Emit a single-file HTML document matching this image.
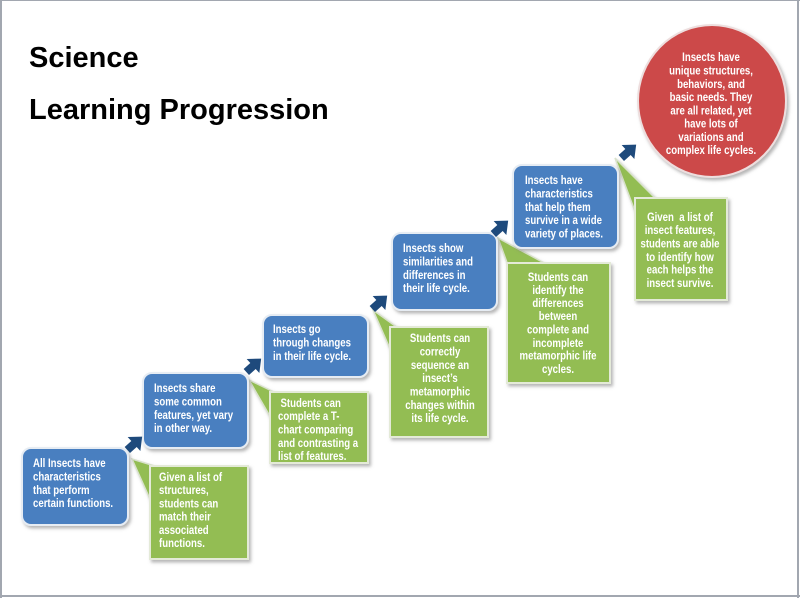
<!DOCTYPE html>
<html>
<head>
<meta charset="utf-8">
<style>
html,body{margin:0;padding:0;background:#fff;}
svg{display:block;}
.t{font-family:"Liberation Sans",Arial,sans-serif;font-weight:bold;font-size:11.6px;fill:#fff;}
.title{font-family:"Liberation Sans",Arial,sans-serif;font-weight:bold;font-size:29px;fill:#000;}
</style>
</head>
<body>
<svg width="800" height="598" viewBox="0 0 800 598" xmlns="http://www.w3.org/2000/svg">
<defs>
<filter id="sh" x="-20%" y="-20%" width="140%" height="140%">
<feDropShadow dx="2" dy="2.5" stdDeviation="1.5" flood-color="#7a7a7a" flood-opacity="0.55"/>
</filter>
</defs>
<rect x="0" y="0" width="800" height="598" fill="#fff"/>

<!-- frame -->
<rect x="0" y="0" width="2" height="598" fill="#a2a7b0"/>
<rect x="0" y="0" width="800" height="1" fill="#a2a7b0"/>
<rect x="797" y="0" width="2" height="598" fill="#a2a7b0"/>
<rect x="0" y="595" width="800" height="2" fill="#a2a7b0"/>

<!-- title -->
<text class="title" x="29" y="67">Science</text>
<text class="title" x="29" y="119">Learning Progression</text>

<!-- green tails -->
<g fill="#93bd52" stroke="#d9e2cc" stroke-width="1.5" filter="url(#sh)">
<polygon points="132,459 158,467 150,499"/>
<polygon points="249,380 276,393 271,418"/>
<polygon points="373,310 398,328 391,351"/>
<polygon points="498,238 546,264 509,268"/>
<polygon points="615,158 656,199 636,214"/>
</g>

<!-- blue boxes -->
<g fill="#4a7fc0" stroke="#e6ecf3" stroke-width="2" filter="url(#sh)">
<rect x="22" y="448" width="106" height="77" rx="9"/>
<rect x="143" y="373" width="105" height="75" rx="9"/>
<rect x="263" y="315" width="105" height="62" rx="9"/>
<rect x="392" y="233" width="105" height="77" rx="9"/>
<rect x="513" y="165" width="105" height="83" rx="9"/>
</g>

<!-- green boxes -->
<g fill="#93bd52" stroke="#e4ead8" stroke-width="2" filter="url(#sh)">
<rect x="150" y="466" width="98" height="93"/>
<rect x="270" y="392" width="98" height="71"/>
<rect x="390" y="327" width="98" height="110"/>
<rect x="507" y="263" width="103" height="120"/>
<rect x="635" y="198" width="92" height="102"/>
</g>

<!-- red ellipse -->
<ellipse cx="712" cy="101" rx="74" ry="76" fill="#cc4a4a" stroke="#eddede" stroke-width="2" filter="url(#sh)"/>

<!-- arrows -->
<g fill="#1e4a7c">
<polygon points="-9,-4 0,-4 0,-9.5 11,0 0,9.5 0,4 -9,4" transform="translate(134,444) rotate(-42)"/>
<polygon points="-9,-4 0,-4 0,-9.5 11,0 0,9.5 0,4 -9,4" transform="translate(253,366) rotate(-42)"/>
<polygon points="-9,-4 0,-4 0,-9.5 11,0 0,9.5 0,4 -9,4" transform="translate(379,303) rotate(-42)"/>
<polygon points="-9,-4 0,-4 0,-9.5 11,0 0,9.5 0,4 -9,4" transform="translate(500,228) rotate(-42)"/>
<polygon points="-9,-4 0,-4 0,-9.5 11,0 0,9.5 0,4 -9,4" transform="translate(628,152) rotate(-42)"/>
</g>

<!-- blue box text -->
<g class="t" transform="translate(33,0) scale(0.83,1)">
<text x="0" y="467">All Insects have</text>
<text x="0" y="480.5">characteristics</text>
<text x="0" y="494">that perform</text>
<text x="0" y="507">certain functions.</text>
</g>
<g class="t" transform="translate(154,0) scale(0.83,1)">
<text x="0" y="392">Insects share</text>
<text x="0" y="405.5">some common</text>
<text x="0" y="419">features, yet vary</text>
<text x="0" y="432">in other way.</text>
</g>
<g class="t" transform="translate(273,0) scale(0.83,1)">
<text x="0" y="333">Insects go</text>
<text x="0" y="346.5">through changes</text>
<text x="0" y="360">in their life cycle.</text>
</g>
<g class="t" transform="translate(403,0) scale(0.83,1)">
<text x="0" y="252">Insects show</text>
<text x="0" y="265.5">similarities and</text>
<text x="0" y="279">differences in</text>
<text x="0" y="292">their life cycle.</text>
</g>
<g class="t" transform="translate(525,0) scale(0.83,1)">
<text x="0" y="184">Insects have</text>
<text x="0" y="197.5">characteristics</text>
<text x="0" y="211">that help them</text>
<text x="0" y="224">survive in a wide</text>
<text x="0" y="237.5">variety of places.</text>
</g>

<!-- green box text -->
<g class="t" transform="translate(159,0) scale(0.83,1)">
<text x="0" y="481">Given a list of</text>
<text x="0" y="494">structures,</text>
<text x="0" y="507.5">students can</text>
<text x="0" y="520.5">match their</text>
<text x="0" y="534">associated</text>
<text x="0" y="547">functions.</text>
</g>
<g class="t" transform="translate(278,0) scale(0.83,1)">
<text x="3" y="407">Students can</text>
<text x="0" y="420">complete a T-</text>
<text x="0" y="433.5">chart comparing</text>
<text x="0" y="447">and contrasting a</text>
<text x="0" y="460">list of features.</text>
</g>
<g class="t" text-anchor="middle" transform="translate(440,0) scale(0.83,1)">
<text x="0" y="342">Students can</text>
<text x="0" y="355.5">correctly</text>
<text x="0" y="369">sequence an</text>
<text x="0" y="382">insect’s</text>
<text x="0" y="395.5">metamorphic</text>
<text x="0" y="409">changes within</text>
<text x="0" y="422">its life cycle.</text>
</g>
<g class="t" text-anchor="middle" transform="translate(558,0) scale(0.83,1)">
<text x="0" y="281">Students can</text>
<text x="0" y="294">identify the</text>
<text x="0" y="307">differences</text>
<text x="0" y="320">between</text>
<text x="0" y="333.5">complete and</text>
<text x="0" y="347">incomplete</text>
<text x="0" y="359.5">metamorphic life</text>
<text x="0" y="373">cycles.</text>
</g>
<g class="t" text-anchor="middle" transform="translate(680,0) scale(0.83,1)">
<text x="0" y="221" xml:space="preserve">Given  a list of</text>
<text x="0" y="234">insect features,</text>
<text x="0" y="247.5">students are able</text>
<text x="0" y="261">to identify how</text>
<text x="0" y="273.5">each helps the</text>
<text x="0" y="287">insect survive.</text>
</g>

<!-- red ellipse text -->
<g class="t" text-anchor="middle" transform="translate(711,0) scale(0.83,1)">
<text x="0" y="61">Insects have</text>
<text x="0" y="74.5">unique structures,</text>
<text x="0" y="88">behaviors, and</text>
<text x="0" y="101">basic needs. They</text>
<text x="0" y="114.5">are all related, yet</text>
<text x="0" y="127.5">have lots of</text>
<text x="0" y="141">variations and</text>
<text x="0" y="154">complex life cycles.</text>
</g>
</svg>
</body>
</html>
